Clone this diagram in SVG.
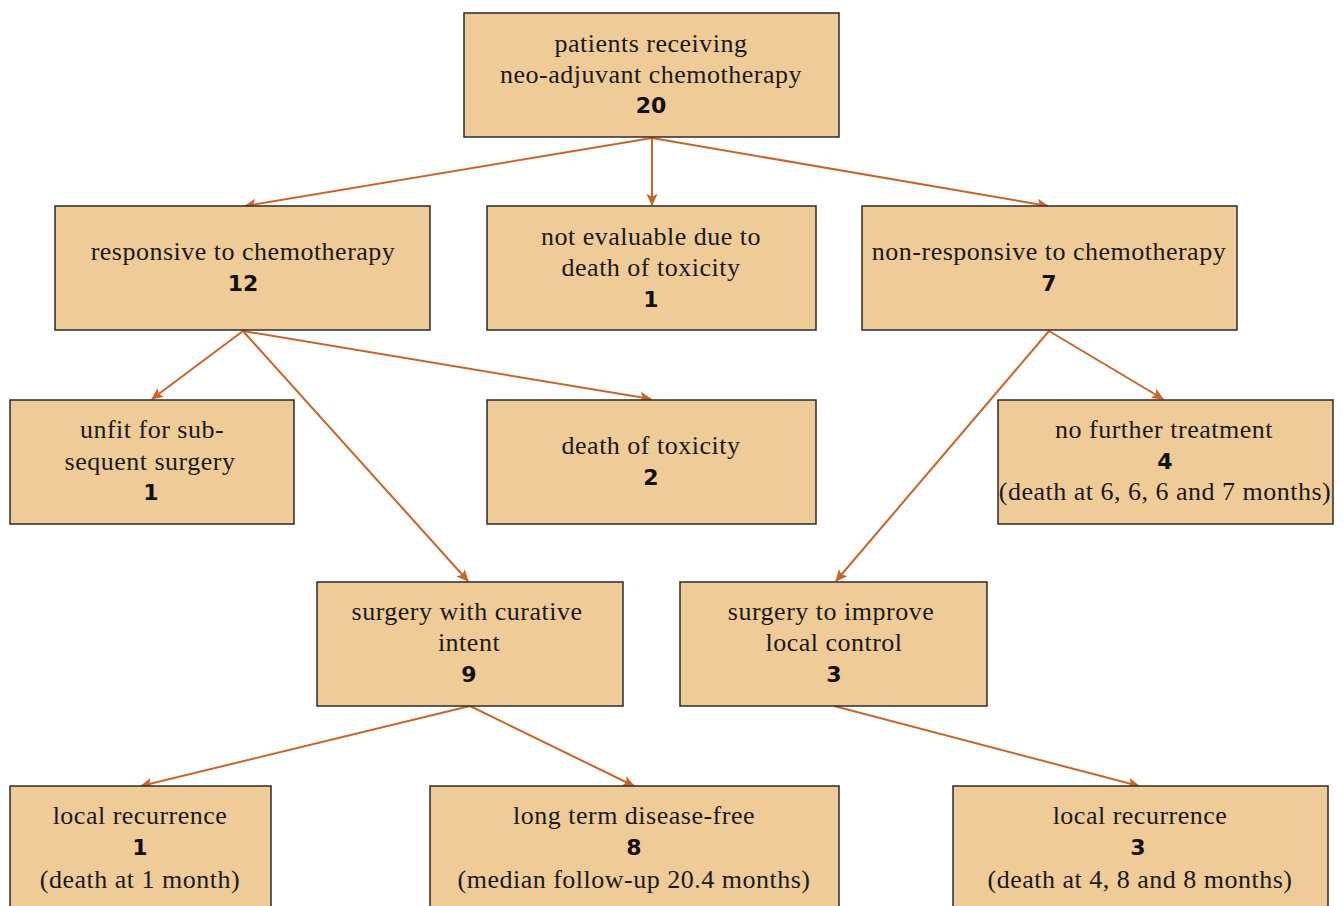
<svg xmlns="http://www.w3.org/2000/svg" width="1343" height="906" viewBox="0 0 1343 906">
<defs>
<marker id="ah" viewBox="0 0 12 12" refX="11" refY="6" markerWidth="12" markerHeight="12" markerUnits="userSpaceOnUse" orient="auto">
<path d="M0,0.5 L12,6 L0,11.5 L2.5,6 z" fill="#C8652A"/>
</marker>
<style>
.box{fill:#EFCB98;stroke:#2b2b2b;stroke-width:1.5}
.t{font-family:"Liberation Serif","Times New Roman",serif;font-size:26px;letter-spacing:0.5px;fill:#1a1a1a;text-anchor:middle}
.n{font-family:"DejaVu Sans","Verdana",sans-serif;font-size:22px;font-weight:bold;fill:#111;text-anchor:middle}
.c{stroke:#C8652A;stroke-width:2;fill:none;marker-end:url(#ah)}
</style>
</defs>
<rect width="1343" height="906" fill="#ffffff"/>
<g id="connectors">
<line class="c" x1="652" y1="138" x2="245" y2="206"/>
<line class="c" x1="652" y1="138" x2="652" y2="205"/>
<line class="c" x1="652" y1="138" x2="1048" y2="206"/>
<line class="c" x1="243" y1="331" x2="152" y2="399"/>
<line class="c" x1="243" y1="331" x2="651" y2="399"/>
<line class="c" x1="243" y1="331" x2="468" y2="581"/>
<line class="c" x1="1049" y1="331" x2="1163" y2="399"/>
<line class="c" x1="1049" y1="331" x2="836" y2="581"/>
<line class="c" x1="470" y1="706" x2="141" y2="786"/>
<line class="c" x1="470" y1="706" x2="634" y2="786"/>
<line class="c" x1="834" y1="706" x2="1139" y2="786"/>
</g>
<g id="n_top">
<rect class="box" x="464" y="13" width="375" height="124"/>
<text class="t" x="651" y="52">patients receiving</text>
<text class="t" x="651" y="83">neo-adjuvant chemotherapy</text>
<text class="n" x="651" y="113">20</text>
</g>
<g id="n_responsive">
<rect class="box" x="55" y="206" width="375" height="124"/>
<text class="t" x="243" y="260">responsive to chemotherapy</text>
<text class="n" x="243" y="291">12</text>
</g>
<g id="n_noteval">
<rect class="box" x="487" y="206" width="329" height="124"/>
<text class="t" x="651" y="245">not evaluable due to</text>
<text class="t" x="651" y="276">death of toxicity</text>
<text class="n" x="651" y="307">1</text>
</g>
<g id="n_nonresp">
<rect class="box" x="862" y="206" width="375" height="124"/>
<text class="t" x="1049" y="260">non-responsive to chemotherapy</text>
<text class="n" x="1049" y="291">7</text>
</g>
<g id="n_unfit">
<rect class="box" x="10" y="400" width="284" height="124"/>
<text class="t" x="152" y="438">unfit for sub-</text>
<text class="t" x="150" y="470">sequent surgery</text>
<text class="n" x="151" y="500">1</text>
</g>
<g id="n_death">
<rect class="box" x="487" y="400" width="329" height="124"/>
<text class="t" x="651" y="454">death of toxicity</text>
<text class="n" x="651" y="485">2</text>
</g>
<g id="n_nofurther">
<rect class="box" x="998" y="400" width="335" height="124"/>
<text class="t" x="1164" y="438">no further treatment</text>
<text class="n" x="1165" y="469">4</text>
<text class="t" x="1165" y="500">(death at 6, 6, 6 and 7 months)</text>
</g>
<g id="n_curative">
<rect class="box" x="317" y="582" width="306" height="124"/>
<text class="t" x="467" y="620">surgery with curative</text>
<text class="t" x="469" y="651">intent</text>
<text class="n" x="469" y="682">9</text>
</g>
<g id="n_local">
<rect class="box" x="680" y="582" width="307" height="124"/>
<text class="t" x="831" y="620">surgery to improve</text>
<text class="t" x="834" y="651">local control</text>
<text class="n" x="834" y="682">3</text>
</g>
<g id="n_lr1">
<rect class="box" x="10" y="786" width="261" height="130"/>
<text class="t" x="140" y="824">local recurrence</text>
<text class="n" x="140" y="855">1</text>
<text class="t" x="140" y="888">(death at 1 month)</text>
</g>
<g id="n_longterm">
<rect class="box" x="430" y="786" width="409" height="130"/>
<text class="t" x="634" y="824">long term disease-free</text>
<text class="n" x="634" y="855">8</text>
<text class="t" x="634" y="888">(median follow-up 20.4 months)</text>
</g>
<g id="n_lr3">
<rect class="box" x="953" y="786" width="375" height="130"/>
<text class="t" x="1140" y="824">local recurrence</text>
<text class="n" x="1138" y="855">3</text>
<text class="t" x="1140" y="888">(death at 4, 8 and 8 months)</text>
</g>
</svg>
